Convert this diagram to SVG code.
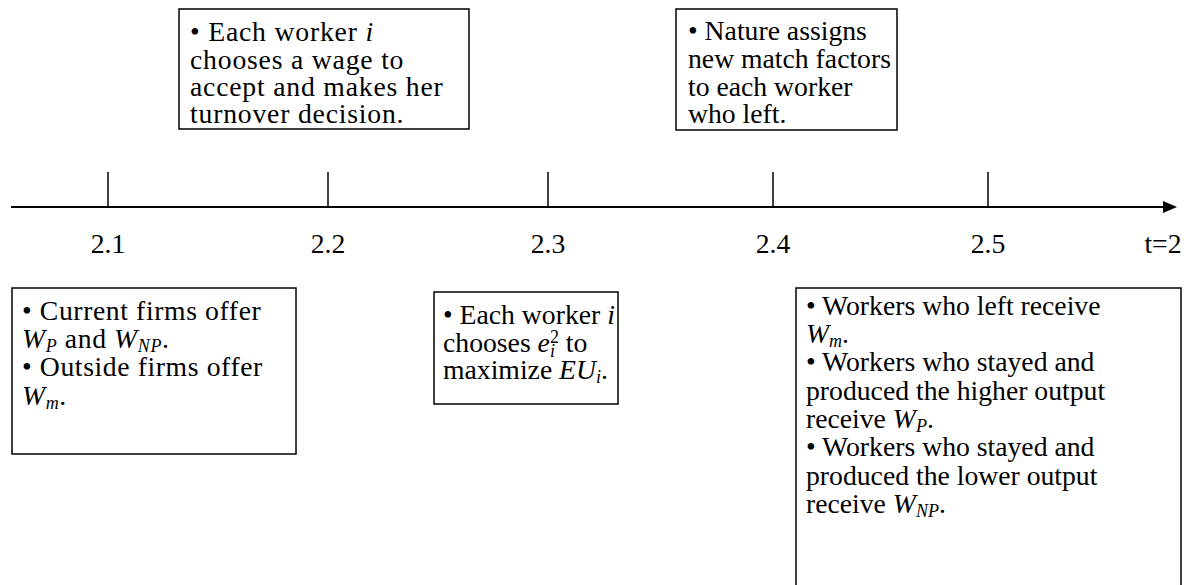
<svg xmlns="http://www.w3.org/2000/svg" width="1188" height="585" viewBox="0 0 1188 585" font-family="'Liberation Serif', 'Times New Roman', serif">
<style>
text{font-family:"Liberation Serif","Times New Roman",serif;font-size:27.7px;fill:#000}
.m{font-style:italic}
.s{font-size:18px}
.b1{letter-spacing:0.6px}
.b2{letter-spacing:0.8px}
.box{fill:#fff;stroke:#000;stroke-width:1.5}
.tick{stroke:#000;stroke-width:1.5}
.axis{stroke:#000;stroke-width:2;fill:none}
</style>
<defs>
<marker id="arr" markerWidth="14" markerHeight="12" refX="0" refY="6" orient="auto" markerUnits="userSpaceOnUse">
<path d="M0,0 L14,6 L0,12 Z" fill="#000"/>
</marker>
</defs>
<g id="connectors">
<line class="axis" x1="11" y1="207" x2="1163" y2="207" marker-end="url(#arr)"/>
<line class="tick" x1="108" y1="172" x2="108" y2="207"/>
<line class="tick" x1="328" y1="172" x2="328" y2="207"/>
<line class="tick" x1="548" y1="172" x2="548" y2="207"/>
<line class="tick" x1="773" y1="172" x2="773" y2="207"/>
<line class="tick" x1="988" y1="172" x2="988" y2="207"/>
</g>
<g id="labels" text-anchor="middle">
<text x="108" y="253">2.1</text>
<text x="328" y="253">2.2</text>
<text x="548" y="253">2.3</text>
<text x="773" y="253">2.4</text>
<text x="988" y="253">2.5</text>
<text x="1163" y="253">t=2</text>
</g>
<g id="box21">
<rect class="box" x="12" y="288" width="284" height="166"/>
<text class="b1"><tspan x="22" y="320">• Current firms offer</tspan><tspan x="22" y="348" class="m">W</tspan><tspan class="m s" dy="4">P</tspan><tspan dy="-4"> and </tspan><tspan class="m">W</tspan><tspan class="m s" dy="4">NP</tspan><tspan dy="-4">.</tspan><tspan x="22" y="376">• Outside firms offer</tspan><tspan x="22" y="405" class="m">W</tspan><tspan class="m s" dy="4">m</tspan><tspan dy="-4">.</tspan></text>
</g>
<g id="box22">
<rect class="box" x="179" y="9" width="290" height="120"/>
<text class="b2"><tspan x="190" y="41">• Each worker </tspan><tspan class="m">i</tspan><tspan x="190" y="69">chooses a wage to</tspan><tspan x="190" y="96">accept and makes her</tspan><tspan x="190" y="123">turnover decision.</tspan></text>
</g>
<g id="box23">
<rect class="box" x="434" y="292" width="184" height="112"/>
<text><tspan x="443" y="324">• Each worker </tspan><tspan class="m">i</tspan><tspan x="443" y="352">chooses </tspan><tspan class="m">e</tspan><tspan class="m s" dy="5">i</tspan><tspan class="s" dx="-5" dy="-14">2</tspan><tspan dy="9"> to</tspan><tspan x="443" y="379">maximize </tspan><tspan class="m">EU</tspan><tspan class="m s" dy="4">i</tspan><tspan dy="-4">.</tspan></text>
</g>
<g id="box24">
<rect class="box" x="676" y="9" width="221" height="121"/>
<text><tspan x="688" y="40">• Nature assigns</tspan><tspan x="688" y="68">new match factors</tspan><tspan x="688" y="96">to each worker</tspan><tspan x="688" y="123">who left.</tspan></text>
</g>
<g id="box25">
<rect class="box" x="796" y="288" width="385" height="320"/>
<text><tspan x="806" y="315">• Workers who left receive</tspan><tspan x="806" y="343" class="m">W</tspan><tspan class="m s" dy="4">m</tspan><tspan dy="-4">.</tspan><tspan x="806" y="371">• Workers who stayed and</tspan><tspan x="806" y="400">produced the higher output</tspan><tspan x="806" y="428">receive </tspan><tspan class="m">W</tspan><tspan class="m s" dy="4">P</tspan><tspan dy="-4">.</tspan><tspan x="806" y="456">• Workers who stayed and</tspan><tspan x="806" y="485">produced the lower output</tspan><tspan x="806" y="513">receive </tspan><tspan class="m">W</tspan><tspan class="m s" dy="4">NP</tspan><tspan dy="-4">.</tspan></text>
</g>
</svg>
